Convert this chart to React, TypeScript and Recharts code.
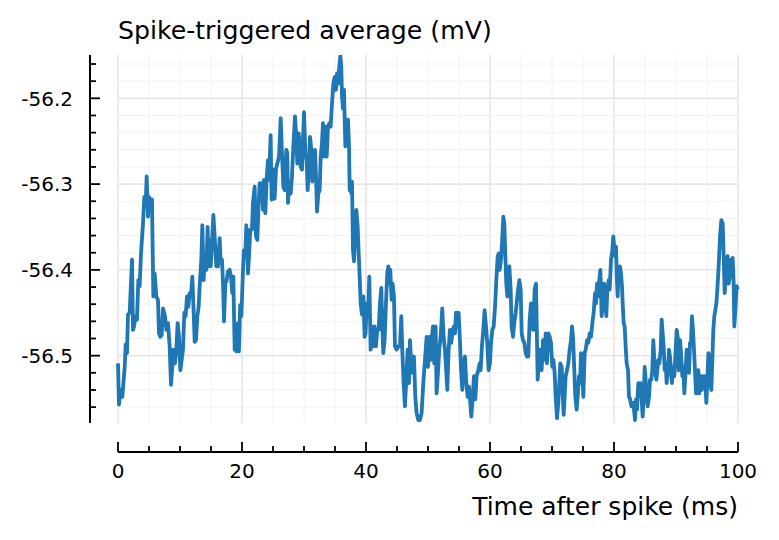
import { LineChart, Line, XAxis, YAxis, CartesianGrid, ReferenceLine } from "recharts";

// spike-triggered average (ms after spike, mV)
const timeMs = [
  0.0, 0.16, 0.38, 0.7, 1.08, 1.24, 1.45, 1.61, 1.88, 2.26, 2.42, 2.58, 2.85, 3.06, 3.28, 3.49, 3.71, 4.03, 4.25, 4.46,
  4.62, 4.84, 5.0, 5.2, 5.48, 5.7, 5.91, 6.18, 6.45, 6.61, 6.83, 7.04, 7.26, 7.58, 7.8, 8.06, 8.33, 8.55, 8.76, 8.92,
  9.19, 9.41, 9.62, 9.84, 10.05, 10.27, 10.48, 10.7, 10.91, 11.13, 11.34, 11.56, 11.77, 11.99, 12.15, 12.37, 12.58, 12.8,
  13.01, 13.17, 13.44, 13.6, 13.82, 13.98, 14.25, 14.46, 14.62, 14.78, 14.95, 15.16, 15.38, 15.59, 15.86, 16.13, 16.4,
  16.56, 16.77, 16.94, 17.1, 17.31, 17.53, 17.74, 18.01, 18.23, 18.44, 18.6, 18.82, 19.0, 19.1, 19.35, 19.5, 19.7, 19.9,
  20.16, 20.32, 20.54, 20.7, 20.97, 21.13, 21.34, 21.61, 21.77, 22.04, 22.26, 22.47, 22.63, 22.85, 23.06, 23.23, 23.39,
  23.55, 23.76, 23.98, 24.19, 24.35, 24.62, 24.78, 25.0, 25.27, 25.48, 25.7, 25.97, 26.24, 26.45, 26.67, 26.88, 27.15,
  27.31, 27.42, 27.63, 27.85, 28.06, 28.28, 28.55, 28.76, 28.92, 29.14, 29.3, 29.46, 29.68, 29.84, 30.0, 30.22, 30.43,
  30.59, 30.75, 30.97, 31.18, 31.34, 31.61, 31.77, 31.94, 32.1, 32.31, 32.53, 32.69, 32.9, 33.06, 33.23, 33.44, 33.66,
  33.87, 34.09, 34.3, 34.52, 34.73, 34.95, 35.16, 35.32, 35.48, 35.65, 35.86, 36.02, 36.13, 36.29, 36.45, 36.67, 36.88,
  37.1, 37.26, 37.37, 37.53, 37.63, 37.74, 37.9, 38.06, 38.28, 38.44, 38.66, 38.82, 38.98, 39.14, 39.35, 39.57, 39.78,
  39.94, 40.1, 40.32, 40.53, 40.75, 40.96, 41.18, 41.39, 41.61, 41.82, 42.04, 42.25, 42.47, 42.63, 42.79, 43.0, 43.22,
  43.43, 43.6, 43.76, 43.92, 44.13, 44.29, 44.51, 44.67, 44.94, 45.21, 45.48, 45.69, 45.85, 46.07, 46.28, 46.5, 46.71,
  46.93, 47.09, 47.3, 47.52, 47.73, 47.95, 48.16, 48.43, 48.7, 48.97, 49.24, 49.51, 49.78, 49.99, 50.21, 50.42, 50.58,
  50.8, 51.01, 51.23, 51.39, 51.61, 51.82, 52.04, 52.3, 52.52, 52.73, 52.9, 53.11, 53.33, 53.54, 53.76, 53.97, 54.19,
  54.35, 54.51, 54.72, 54.94, 55.15, 55.31, 55.53, 55.74, 55.96, 56.18, 56.39, 56.61, 56.82, 56.98, 57.2, 57.41, 57.63,
  57.84, 58.11, 58.33, 58.49, 58.7, 58.92, 59.13, 59.35, 59.56, 59.78, 59.99,
  60.16, 60.38, 60.59, 60.81, 61.02, 61.24, 61.4, 61.56, 61.77, 61.94, 62.15, 62.31, 62.47, 62.63, 62.8, 62.96, 63.12,
  63.33, 63.49, 63.71, 63.92, 64.14, 64.3, 64.46, 64.73, 64.95, 65.11, 65.32, 65.54, 65.75, 65.97, 66.18, 66.4, 66.61,
  66.77, 66.99, 67.2, 67.42, 67.58, 67.69, 67.9, 68.12, 68.33, 68.55, 68.76, 68.98, 69.19, 69.41, 69.62, 69.84, 70.05,
  70.22, 70.43, 70.59, 70.81, 71.02, 71.18, 71.34, 71.56, 71.72, 71.88, 72.04, 72.2, 72.42, 72.63, 72.85, 73.06, 73.23,
  73.39, 73.6, 73.76, 73.98, 74.14, 74.35, 74.52, 74.68, 74.89, 75.05, 75.27, 75.43, 75.65, 75.86, 76.08, 76.29, 76.51,
  76.72, 76.94, 77.1, 77.26, 77.47, 77.63, 77.8, 78.01, 78.17, 78.39, 78.55, 78.76, 78.92, 79.14, 79.3, 79.52, 79.73,
  79.89, 80.16, 80.32, 80.48, 80.59, 80.75, 80.97, 81.13, 81.29, 81.4, 81.56, 81.72, 81.88, 82.04, 82.26, 82.42, 82.58,
  82.8, 83.01, 83.23, 83.39, 83.55, 83.71, 83.92, 84.09, 84.25, 84.46, 84.62, 84.78, 84.95, 85.11, 85.27, 85.43, 85.65,
  85.81, 86.02, 86.18, 86.34, 86.51, 86.67, 86.83, 86.99, 87.15, 87.31, 87.53, 87.69, 87.85, 88.01, 88.17, 88.33, 88.49,
  88.71, 88.87, 89.03, 89.19, 89.35, 89.52, 89.73, 89.95, 90.11, 90.27, 90.43, 90.65, 90.81, 91.02, 91.18, 91.34, 91.56,
  91.72, 91.94, 92.1, 92.26, 92.42, 92.58, 92.74, 92.9, 93.06, 93.23, 93.44, 93.6, 93.76, 93.98, 94.14, 94.35, 94.52,
  94.68, 94.89, 95.05, 95.22, 95.38, 95.54, 95.7, 95.86, 96.02, 96.18, 96.34, 96.51, 96.67, 96.88, 97.1, 97.31, 97.53,
  97.69, 97.85, 98.01, 98.17, 98.33, 98.49, 98.66, 98.87, 99.03, 99.14, 99.3, 99.41, 99.57, 99.78, 99.95,
];

const voltage = [
  -56.509, -56.557, -56.54, -56.548, -56.513, -56.487, -56.497, -56.452, -56.45, -56.388, -56.47, -56.466, -56.454,
  -56.458, -56.412, -56.419, -56.381, -56.346, -56.315, -56.326, -56.291, -56.338, -56.315, -56.322, -56.318, -56.431,
  -56.404, -56.431, -56.435, -56.474, -56.478, -56.476, -56.445, -56.454, -56.47, -56.462, -56.489, -56.534, -56.513,
  -56.493, -56.509, -56.493, -56.462, -56.478, -56.517, -56.505, -56.493, -56.45, -56.454, -56.431, -56.443, -56.427,
  -56.431, -56.408, -56.439, -56.484, -56.482, -56.454, -56.443, -56.419, -56.388, -56.348, -56.412, -56.381, -56.4,
  -56.35, -56.396, -56.365, -56.396, -56.369, -56.336, -56.361, -56.396, -56.396, -56.363, -56.392, -56.388, -56.416,
  -56.46, -56.416, -56.412, -56.402, -56.4, -56.408, -56.427, -56.408, -56.493, -56.47, -56.495, -56.462, -56.495,
  -56.441, -56.454,
  -56.4, -56.377, -56.381, -56.348, -56.404, -56.384, -56.353, -56.353, -56.322, -56.303, -56.361, -56.365, -56.334,
  -56.299, -56.307, -56.299, -56.33, -56.295, -56.334, -56.293, -56.272, -56.295, -56.243, -56.318, -56.283, -56.317,
  -56.282, -56.276, -56.268, -56.223, -56.264, -56.303, -56.307, -56.26, -56.264, -56.322, -56.299, -56.311, -56.291,
  -56.256, -56.221, -56.245, -56.276, -56.241, -56.252, -56.28, -56.283, -56.249, -56.216, -56.264, -56.272, -56.307,
  -56.287, -56.245, -56.26, -56.297, -56.28, -56.26, -56.291, -56.332, -56.311, -56.307, -56.268, -56.252, -56.229,
  -56.268, -56.233, -56.268, -56.233, -56.229, -56.233, -56.206, -56.183, -56.175, -56.19, -56.171, -56.183, -56.167,
  -56.151, -56.163, -56.198, -56.212, -56.19, -56.256, -56.225, -56.225, -56.256, -56.307, -56.299, -56.311, -56.297,
  -56.377, -56.39, -56.353, -56.33, -56.35, -56.381, -56.408, -56.439, -56.452, -56.431, -56.478,
  -56.474, -56.439, -56.454, -56.408, -56.493, -56.466, -56.489, -56.466, -56.489, -56.47, -56.47, -56.439, -56.421,
  -56.466, -56.497, -56.482, -56.439, -56.404, -56.396, -56.416, -56.4, -56.435, -56.416, -56.431, -56.489, -56.493,
  -56.489, -56.489, -56.454, -56.493, -56.532, -56.559, -56.528, -56.493, -56.532, -56.482, -56.509, -56.52, -56.501,
  -56.548, -56.567, -56.575, -56.575, -56.567, -56.532, -56.505, -56.478, -56.513, -56.478, -56.505, -56.482, -56.466,
  -56.509, -56.466, -56.544, -56.52, -56.493, -56.478, -56.445, -56.478, -56.493, -56.513, -56.54, -56.493, -56.47,
  -56.485, -56.47, -56.466, -56.474, -56.45, -56.466, -56.45, -56.482, -56.513, -56.54, -56.509, -56.501, -56.532,
  -56.548, -56.536, -56.555, -56.571, -56.551, -56.524, -56.551, -56.524, -56.517, -56.509, -56.517, -56.489, -56.47,
  -56.447, -56.466, -56.485, -56.517, -56.509,
  -56.485, -56.47, -56.466, -56.443, -56.412, -56.384, -56.381, -56.4, -56.388, -56.369, -56.338, -56.346, -56.384,
  -56.416, -56.431, -56.4, -56.396, -56.423, -56.466, -56.478, -56.462, -56.45, -56.439, -56.427, -56.412, -56.423,
  -56.474, -56.482, -56.485, -56.497, -56.501, -56.501, -56.458, -56.439, -56.458, -56.47, -56.423, -56.416, -56.482,
  -56.528, -56.505, -56.493, -56.517, -56.482, -56.505, -56.474, -56.509, -56.474, -56.478, -56.485, -56.513, -56.505,
  -56.52, -56.548, -56.573, -56.555, -56.532, -56.509, -56.513, -56.544, -56.569, -56.548, -56.524, -56.517, -56.509,
  -56.493, -56.482, -56.466, -56.478, -56.517, -56.548, -56.563, -56.548, -56.524, -56.532, -56.497, -56.517, -56.548,
  -56.497, -56.493, -56.482, -56.485, -56.474, -56.478, -56.462, -56.45, -56.427, -56.439, -56.416, -56.431, -56.412,
  -56.4, -56.454, -56.439, -56.416, -56.431, -56.454, -56.423, -56.412, -56.423, -56.388, -56.377, -56.361,
  -56.384, -56.373, -56.412, -56.431, -56.4, -56.396, -56.404, -56.419, -56.439, -56.462, -56.466, -56.489, -56.509,
  -56.517, -56.548, -56.55, -56.559, -56.555, -56.563, -56.575, -56.551, -56.563, -56.532, -56.54, -56.532, -56.551,
  -56.571, -56.548, -56.513, -56.528, -56.548, -56.559, -56.548, -56.528, -56.528, -56.517, -56.482, -56.505, -56.517,
  -56.528, -56.517, -56.505, -56.509, -56.493, -56.458, -56.474, -56.489, -56.517, -56.509, -56.532, -56.517, -56.493,
  -56.501, -56.517, -56.532, -56.513, -56.524, -56.493, -56.47, -56.478, -56.517, -56.482, -56.497, -56.524, -56.513,
  -56.544, -56.517, -56.493, -56.509, -56.52, -56.485, -56.485, -56.454, -56.47, -56.493, -56.517, -56.544, -56.544,
  -56.517, -56.544, -56.524, -56.54, -56.524, -56.536, -56.524, -56.555, -56.532, -56.497, -56.501, -56.532, -56.54,
  -56.505, -56.47, -56.454, -56.447, -56.439, -56.423, -56.396, -56.361, -56.342, -56.346, -56.384, -56.427, -56.412,
  -56.388, -56.384, -56.416, -56.408, -56.388, -56.4, -56.386, -56.416, -56.466, -56.447, -56.419, -56.423,
];

const xTicks = [0, 5, 10, 15, 20, 25, 30, 35, 40, 45, 50, 55, 60, 65, 70, 75, 80, 85, 90, 95, 100];
const xLabelTicks = [0, 20, 40, 60, 80, 100];
const yTicks = [
  -56.56, -56.54, -56.52, -56.5, -56.48, -56.46, -56.44, -56.42, -56.4, -56.38, -56.36,
  -56.34, -56.32, -56.3, -56.28, -56.26, -56.24, -56.22, -56.2, -56.18, -56.16,
];
const yLabelTicks = [-56.5, -56.4, -56.3, -56.2];
const yDomain = [-56.5785, -56.1495];

const titleText = "Spike-triggered average (mV)";
const xTitleText = "Time after spike (ms)";

const data = timeMs.map((t, i) => ({ t, v: voltage[i] }));

const FONT = '"DejaVu Sans", sans-serif';
const W = 771;
const H = 532;
const GAP_X = 28; // left spine sits this far left of the plot
const GAP_Y = 29; // bottom spine sits this far below the plot

const inList = (list: number[], v: number) => list.some((l) => Math.abs(l - v) < 1e-6);

const YTick = (props: any) => {
  const { x, y, payload } = props;
  const major = inList(yLabelTicks, payload.value);
  const ax = x - GAP_X;
  return (
    <g>
      <line x1={ax} x2={ax + (major ? 10 : 6)} y1={y} y2={y} stroke="#000" strokeWidth={1.8} />
      {major && (
        <text x={ax - 17} y={y} dy="0.36em" textAnchor="end" fontFamily={FONT} fontSize={20} fill="#000">
          {payload.value.toFixed(1)}
        </text>
      )}
    </g>
  );
};

const XTick = (props: any) => {
  const { x, y, payload } = props;
  const major = inList(xLabelTicks, payload.value);
  const ay = y + GAP_Y;
  return (
    <g>
      <line x1={x} x2={x} y1={ay} y2={ay - (major ? 10 : 6)} stroke="#000" strokeWidth={1.8} />
      {major && (
        <text x={x} y={ay + 26} textAnchor="middle" fontFamily={FONT} fontSize={20} fill="#000">
          {payload.value}
        </text>
      )}
    </g>
  );
};

const LeftSpine = (p: any) => (
  <line x1={p.x1 - GAP_X} y1={p.y1} x2={p.x2 - GAP_X} y2={p.y2} stroke="#000" strokeWidth={2} />
);

const BottomSpine = (p: any) => (
  <line x1={p.x1} y1={p.y1 + GAP_Y} x2={p.x2} y2={p.y2 + GAP_Y} stroke="#000" strokeWidth={2} />
);

export default function App() {
  return (
    <div style={{ position: "relative", width: W, height: H, background: "#fff" }}>
      <LineChart width={W} height={H} data={data} margin={{ top: 47, right: 41, bottom: 0, left: 0 }}>
        <CartesianGrid horizontalValues={yTicks} verticalValues={xTicks} stroke="#f2f2f2" strokeWidth={1} />
        <CartesianGrid horizontalValues={yLabelTicks} verticalValues={xLabelTicks} stroke="#e3e3e3" strokeWidth={1.3} />
        <XAxis
          dataKey="t"
          type="number"
          domain={[0, 100]}
          ticks={xTicks}
          interval={0}
          axisLine={false}
          tickLine={false}
          tickSize={0}
          tickMargin={0}
          height={117}
          tick={XTick}
        />
        <YAxis
          type="number"
          domain={yDomain}
          allowDataOverflow
          ticks={yTicks}
          interval={0}
          axisLine={false}
          tickLine={false}
          tickSize={0}
          tickMargin={0}
          width={110}
          tick={YTick}
        />
        <ReferenceLine x={0} ifOverflow="visible" shape={LeftSpine} />
        <ReferenceLine y={yDomain[0]} ifOverflow="visible" shape={BottomSpine} />
        <Line
          type="linear"
          dataKey="v"
          stroke="#1f77b4"
          strokeWidth={3.8}
          strokeLinejoin="round"
          dot={false}
          activeDot={false}
          isAnimationActive={false}
        />
      </LineChart>
      <svg width={W} height={H} style={{ position: "absolute", left: 0, top: 0, pointerEvents: "none" }}>
        <text x={110} y={30.5} fontFamily={FONT} fontSize={25.2} fill="#000">
          {titleText}
        </text>
        <text x={730} y={506.5} textAnchor="end" fontFamily={FONT} fontSize={25} fill="#000">
          {xTitleText}
        </text>
      </svg>
    </div>
  );
}
